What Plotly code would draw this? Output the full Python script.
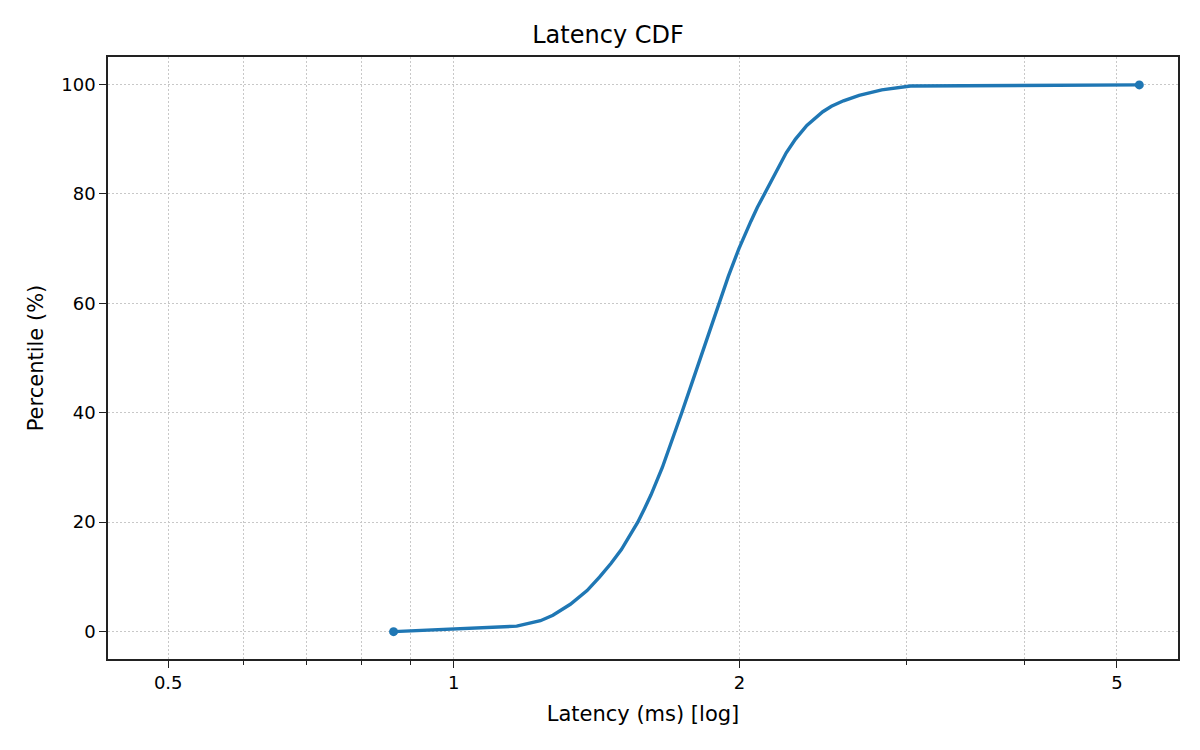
import math
import plotly.graph_objects as go

# percentile curve
latency_ms = [0.864, 1.165, 1.234, 1.272, 1.327, 1.382, 1.425, 1.465, 1.502, 1.534,
              1.563, 1.589, 1.614, 1.659, 1.700, 1.739, 1.779, 1.820, 1.862, 1.903,
              1.948, 1.998, 2.026, 2.057, 2.089, 2.125, 2.161, 2.199, 2.241, 2.292,
              2.356, 2.449, 2.501, 2.575, 2.675, 2.826, 2.959, 3.030, 5.280]
percentile = [0, 1, 2, 3, 5, 7.5, 10, 12.5, 15, 17.5,
              20, 22.5, 25, 30, 35, 40, 45, 50, 55, 60,
              65, 70, 72.5, 75, 77.5, 80, 82.5, 85, 87.5, 90,
              92.5, 95, 96, 97, 98, 99, 99.5, 99.7, 99.9]

x_major = [0.5, 1, 2, 5]
x_major_text = ["0.5", "1", "2", "5"]
x_minor = [0.6, 0.7, 0.8, 0.9, 3, 4]
y_ticks = [0, 20, 40, 60, 80, 100]

blue = "#1f77b4"
axis_col = "#222222"
font = "DejaVu Sans"

# only the first and last points get a marker
sizes = [0] * len(latency_ms)
sizes[0] = 9
sizes[-1] = 9

fig = go.Figure()
fig.add_trace(
    go.Scatter(
        x=latency_ms,
        y=percentile,
        mode="lines+markers",
        line=dict(color=blue, width=3.4),
        marker=dict(color=blue, size=sizes, line=dict(width=0), opacity=1),
        showlegend=False,
    )
)

grid = dict(showgrid=True, gridcolor="#c8c8c8", griddash="1.5px,2.5px", gridwidth=1.1)

# page body has an 8px offset, margins are shifted to compensate
fig.update_layout(
    width=1200,
    height=750,
    paper_bgcolor="white",
    plot_bgcolor="white",
    margin=dict(l=100, r=30, t=49, b=99),
    font=dict(family=font, color="black", size=18),
    title=dict(
        text="Latency CDF",
        x=0.5,
        xanchor="center",
        y=1 - 27 / 750,
        yanchor="middle",
        font=dict(size=24, family=font, color="black"),
    ),
)

fig.update_xaxes(
    type="log",
    range=[math.log10(0.432), math.log10(5.8)],
    tickmode="array",
    tickvals=x_major,
    ticktext=x_major_text,
    ticks="outside",
    ticklen=7,
    tickwidth=1.3,
    tickcolor=axis_col,
    tickfont=dict(size=18),
    showline=True,
    linecolor=axis_col,
    linewidth=1.6,
    mirror=True,
    zeroline=False,
    minor=dict(
        tickmode="array",
        tickvals=x_minor,
        ticks="outside",
        ticklen=4,
        tickwidth=1,
        tickcolor=axis_col,
        **grid,
    ),
    title=dict(text="Latency (ms) [log]", font=dict(size=21), standoff=14),
    **grid,
)

fig.update_yaxes(
    range=[-5, 105],
    tickmode="array",
    tickvals=y_ticks,
    ticks="outside",
    ticklen=7,
    tickwidth=1.3,
    tickcolor=axis_col,
    tickfont=dict(size=18),
    showline=True,
    linecolor=axis_col,
    linewidth=1.6,
    mirror=True,
    zeroline=False,
    title=dict(text="Percentile (%)", font=dict(size=21), standoff=12),
    **grid,
)

fig.write_html("out.html")
